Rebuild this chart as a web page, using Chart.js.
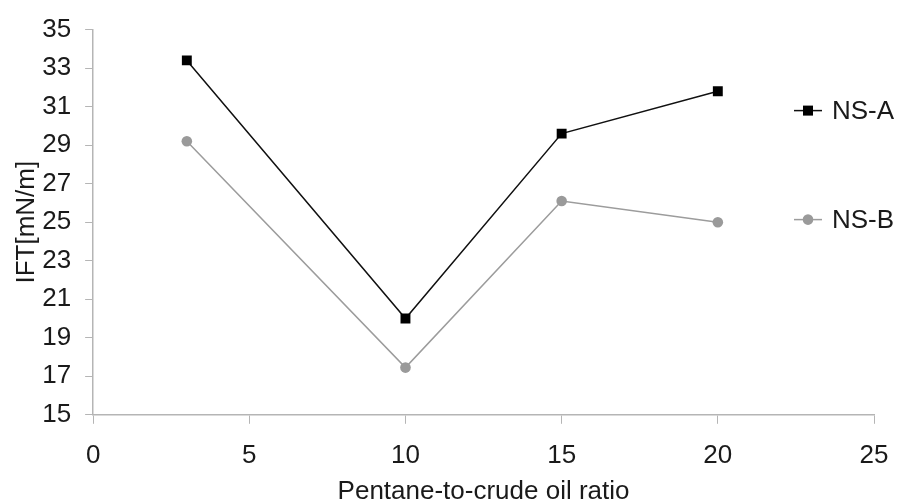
<!DOCTYPE html>
<html lang="en">
<head>
    <meta charset="UTF-8">
    <title>IFT vs pentane-to-crude oil ratio</title>
    <script src="https://cdn.jsdelivr.net/npm/chart.js"></script>
    <style>
        html, body { margin: 0; padding: 0; background: #fff; }
        .container { width: 899px; height: 501px; }
    </style>
</head>
<body>
    <div class="container">
        <canvas id="iftChart" width="899" height="501"></canvas>
    </div>
    <script>
        // data
        const ratios = [3, 10, 15, 20];
        const nsA = [33.4, 20.0, 29.6, 31.8];
        const nsB = [29.2, 17.45, 26.1, 25.0];
        const seriesNames = ['NS-A', 'NS-B'];
        const xTicks = [0, 5, 10, 15, 20, 25];
        const yTicks = [15, 17, 19, 21, 23, 25, 27, 29, 31, 33, 35];

        const toPoints = vals => ratios.map((r, i) => ({ x: r, y: vals[i] }));

        const textColor = '#1a1a1a';
        const axisColor = '#b5b5b5';
        const font = { family: '"Liberation Sans", Arial, sans-serif', size: 26 };

        // legend drawn inside the plot, line + marker like the original
        const insideLegend = {
            id: 'insideLegend',
            afterDatasetsDraw(chart) {
                const ctx = chart.ctx;
                const area = chart.chartArea;
                const left = area.right - 80;
                let y = area.top + 81;
                ctx.save();
                ctx.font = `${font.size}px ${font.family}`;
                ctx.textBaseline = 'middle';
                chart.data.datasets.forEach(ds => {
                    ctx.strokeStyle = ds.borderColor;
                    ctx.lineWidth = 1.5;
                    ctx.beginPath();
                    ctx.moveTo(left, y);
                    ctx.lineTo(left + 28, y);
                    ctx.stroke();
                    ctx.fillStyle = ds.pointBackgroundColor;
                    if (ds.pointStyle === 'rect') {
                        ctx.fillRect(left + 9, y - 5, 10, 10);
                    } else {
                        ctx.beginPath();
                        ctx.arc(left + 14, y, 5.3, 0, Math.PI * 2);
                        ctx.fill();
                    }
                    ctx.fillStyle = textColor;
                    ctx.fillText(ds.label, left + 38, y + 1);
                    y += 109;
                });
                ctx.restore();
            }
        };

        const config = {
            type: 'line',
            data: {
                datasets: [{
                    label: seriesNames[0],
                    data: toPoints(nsA),
                    borderColor: '#111111',
                    borderWidth: 1.5,
                    pointStyle: 'rect',
                    pointRadius: 7,
                    pointBackgroundColor: '#000000',
                    pointBorderColor: '#000000',
                    pointBorderWidth: 0,
                    tension: 0
                }, {
                    label: seriesNames[1],
                    data: toPoints(nsB),
                    borderColor: '#9c9c9c',
                    borderWidth: 1.5,
                    pointStyle: 'circle',
                    pointRadius: 5.3,
                    pointBackgroundColor: '#9a9a9a',
                    pointBorderColor: '#9a9a9a',
                    pointBorderWidth: 0,
                    tension: 0
                }]
            },
            options: {
                responsive: false,
                animation: false,
                layout: { padding: { top: 19, right: 0, left: 11, bottom: -4 } },
                scales: {
                    x: {
                        type: 'linear',
                        min: 0,
                        max: 25,
                        afterBuildTicks: axis => { axis.ticks = xTicks.map(v => ({ value: v })); },
                        // keep only half of the last label as right margin
                        afterFit: axis => { axis.paddingRight = 25; },
                        border: { color: axisColor, width: 1.5 },
                        grid: { drawOnChartArea: false, color: axisColor, tickLength: 9 },
                        ticks: { color: textColor, font: font, padding: 16, maxRotation: 0 },
                        title: {
                            display: true, text: 'Pentane-to-crude oil ratio', color: textColor,
                            font: { family: font.family, size: font.size, lineHeight: 1 },
                            padding: { top: -8, bottom: 0 }
                        }
                    },
                    y: {
                        min: 15,
                        max: 35,
                        afterBuildTicks: axis => { axis.ticks = yTicks.map(v => ({ value: v })); },
                        border: { color: axisColor, width: 1.5 },
                        grid: { drawOnChartArea: false, color: axisColor, tickLength: 8 },
                        ticks: { color: textColor, font: font, padding: 14 },
                        title: { display: true, text: 'IFT[mN/m]', color: textColor, font: font, padding: { top: 0, bottom: -14 } }
                    }
                },
                plugins: {
                    legend: { display: false },
                    tooltip: { enabled: false }
                }
            },
            plugins: [insideLegend]
        };

        const ctx = document.getElementById('iftChart').getContext('2d');
        window.iftChart = new Chart(ctx, config);
    </script>
</body>
</html>
